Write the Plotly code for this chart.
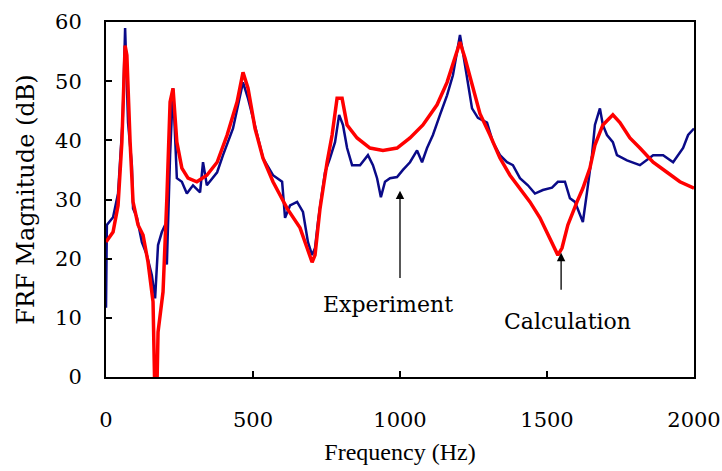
import plotly.graph_objects as go

# experiment (blue)
exp_f = [0, 3, 24, 41, 57, 65, 75, 88, 92, 105, 122, 139, 156, 167, 177, 190, 201, 207, 218, 228,
         241, 258, 275, 296, 320, 330, 343, 378, 398, 432, 466, 483, 500, 534, 568, 599, 609, 626,
         650, 670, 687, 701, 711, 721, 735, 745, 762, 779, 793, 806, 820, 837, 864, 891, 908, 922,
         935, 949, 966, 990, 1010, 1034, 1058, 1075, 1092, 1112, 1136, 1160, 1180, 1204, 1214,
         1231, 1245, 1265, 1296, 1316, 1340, 1364, 1384, 1408, 1435, 1459, 1486, 1517, 1537, 1561,
         1578, 1595, 1612, 1622, 1636, 1653, 1663, 1680, 1690, 1704, 1724, 1738, 1772, 1816, 1861,
         1895, 1929, 1963, 1980, 2000]
exp_db = [11.7, 25.7, 27, 31, 43.7, 59, 43, 35.8, 28.5, 27, 22.8, 20.6, 17.2, 13.3, 22.3, 24.5, 25.7,
          19, 37.5, 48.8, 33.6, 33, 31, 32.4, 31.2, 36.3, 32.4, 34.6, 37.5, 42, 49.8, 47.1, 43.8,
          37, 34.1, 33, 26.9, 29, 29.6, 27.9, 22.8, 20.6, 21.8, 26.2, 31.2, 34.6, 37, 39.7, 44.3,
          42.6, 38.7, 35.8, 35.8, 37.5, 35.8, 33.6, 30.4, 33, 33.6, 33.8, 35, 36.3, 38.3, 36.3,
          38.7, 40.9, 44.3, 47.6, 51, 57.8, 54.9, 49.8, 45.4, 43.8, 43, 39.7, 37.5, 36.3, 35.8,
          33.6, 32.4, 31, 31.6, 32, 33, 33, 30.2, 29.6, 27.4, 26.2, 31.2, 37.5, 42.6, 45.4, 42.6,
          40.9, 39.7, 37.5, 36.6, 35.8, 37.5, 37.5, 36.3, 38.7, 40.9, 42]

# calculation (red)
calc_f = [0, 24, 41, 54, 65, 71, 82, 92, 109, 126, 143, 160, 167, 172, 177, 194, 207, 218, 228, 241,
          258, 279, 309, 343, 378, 412, 446, 466, 483, 507, 534, 568, 616, 660, 684, 701, 711, 728,
          752, 769, 786, 803, 820, 854, 898, 942, 990, 1034, 1078, 1126, 1160, 1187, 1204, 1221,
          1245, 1272, 1306, 1340, 1374, 1408, 1442, 1476, 1510, 1537, 1551, 1571, 1602, 1622,
          1646, 1663, 1690, 1724, 1748, 1782, 1816, 1861, 1908, 1952, 2000]
calc_db = [22.8, 24.5, 29, 39.7, 56, 54.4, 39.7, 29.6, 25.7, 24, 19.4, 12.7, -5, -5, 7.6, 14.4, 30.2,
           46.5, 48.8, 39.7, 35.3, 33.6, 33, 34.1, 36.3, 40.9, 46.5, 51.5, 48.8, 42, 37, 33, 28.5,
           25.2, 21.8, 19.4, 20.6, 28.5, 36.3, 40.9, 47.1, 47.1, 42.6, 40.4, 38.7, 38.3, 38.7, 40.4,
           42.6, 46, 49.8, 53.9, 56.6, 53.9, 49.3, 44.5, 40.9, 37, 34.1, 31.9, 29.6, 26.9, 23.5,
           20.6, 21.8, 25.7, 29.6, 31.9, 35.3, 39.2, 42.6, 44.3, 43, 40.4, 38.7, 36.3, 34.6, 33, 31.9]

x_ticks = [0, 500, 1000, 1500, 2000]
y_ticks = [0, 10, 20, 30, 40, 50, 60]

serif = "DejaVu Serif, serif"
times = "Liberation Serif, Times New Roman, serif"

fig = go.Figure()
fig.add_trace(go.Scatter(x=exp_f, y=exp_db, mode="lines", name="Experiment",
                         line=dict(color="#0a0a88", width=2.5)))
fig.add_trace(go.Scatter(x=calc_f, y=calc_db, mode="lines", name="Calculation",
                         line=dict(color="#ff0000", width=3.5)))

fig.add_annotation(x=1000, y=31.5, ax=1000, ay=16.5, xref="x", yref="y", axref="x", ayref="y",
                   showarrow=True, arrowhead=2, arrowsize=1.3, arrowwidth=1.3, arrowcolor="black", text="")
fig.add_annotation(x=958, y=12.2, text="Experiment", showarrow=False,
                   font=dict(family=serif, size=22, color="black"))
fig.add_annotation(x=1548, y=21, ax=1548, ay=14.5, xref="x", yref="y", axref="x", ayref="y",
                   showarrow=True, arrowhead=2, arrowsize=1.3, arrowwidth=1.3, arrowcolor="black", text="")
fig.add_annotation(x=1571, y=9.4, text="Calculation", showarrow=False,
                   font=dict(family=serif, size=22, color="black"))

axis_style = dict(showline=True, linewidth=2, linecolor="black", mirror=True, showgrid=False,
                  zeroline=False, ticks="inside", ticklen=6, tickwidth=2, tickcolor="black",
                  automargin=False, tickfont=dict(family=serif, size=21, color="black"))
fig.update_xaxes(range=[0, 2000], tickvals=x_ticks, ticklabelstandoff=23, title_text="Frequency (Hz)",
                 title_font=dict(family=times, size=24, color="black"), title_standoff=12, **axis_style)
fig.update_yaxes(range=[0, 60], tickvals=y_ticks, ticklabelstandoff=18, title_text="FRF Magnitude (dB)",
                 title_font=dict(family=serif, size=24, color="black"), title_standoff=14, **axis_style)

fig.update_layout(width=722, height=471, showlegend=False, plot_bgcolor="white", paper_bgcolor="white",
                  margin=dict(l=106, r=28, t=22, b=94))
# drop the default 8px body margin so the figure fills the window exactly
fig.write_html("out.html", config={"displayModeBar": False},
               post_script="document.body.style.margin='0px';")
